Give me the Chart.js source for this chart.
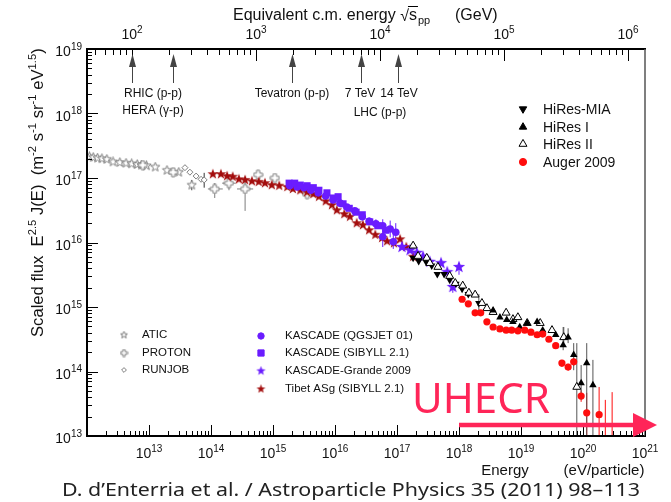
<!DOCTYPE html>
<html>
<head>
<meta charset="utf-8">
<script src="https://cdn.jsdelivr.net/npm/chart.js@4.4.1/dist/chart.umd.min.js"></script>
<style>
  html, body { margin: 0; padding: 0; background: #fff; }
  #wrap { width: 671px; height: 502px; position: relative; }
</style>
</head>
<body>
<div id="wrap"><canvas id="c" width="671" height="502"></canvas></div>
<script>
// ---- Cosmic-ray spectrum, scaled flux E^2.5 J(E); values stored as log10(E/eV), log10(flux) ----

const aticLogE = [12.04, 12.10, 12.17, 12.24, 12.32, 12.42, 12.53, 12.63, 12.72, 12.81, 12.88, 12.96, 13.10, 13.29, 13.48, 13.69];
const aticLogF = [17.33, 17.32, 17.31, 17.30, 17.29, 17.25, 17.24, 17.23, 17.22, 17.21, 17.20, 17.19, 17.17, 17.12, 17.09, 16.89];
const aticErr  = [null, null, null, null, null, null, null, null, null, null, null, null, null, null, null, [16.81, 16.97]];

const protonLogE = [12.90, 13.39, 14.06, 14.29, 14.55, 14.76, 15.03, 15.55];
const protonLogF = [17.20, 17.09, 16.83, 16.92, 16.83, 17.05, 17.00, 16.75];
const protonErr  = [null, null, [16.69, 16.92], [16.81, 17.03], [16.49, 17.02], null, null, null];
const protonXErr = [null, null, [13.95, 14.19], [14.18, 14.40], [14.42, 14.68], null, null, null];

const runjobLogE = [13.58, 13.66, 13.76, 13.84, 13.89];
const runjobLogF = [17.16, 17.09, 17.03, 16.98, 16.97];
const runjobErr  = [null, null, null, null, [16.85, 17.08]];

const tibetLogE = [14.03, 14.16, 14.26, 14.35, 14.45, 14.55, 14.66, 14.77, 14.87, 14.98, 15.10, 15.23, 15.32, 15.44, 15.55, 15.65,
                   15.74, 15.85, 15.95, 16.03, 16.15, 16.24, 16.35, 16.45, 16.55, 16.65, 16.76, 16.84, 16.95, 17.05, 17.15, 17.26];
const tibetLogF = [17.06, 17.06, 17.03, 17.02, 16.98, 16.97, 16.95, 16.94, 16.92, 16.89, 16.88, 16.86, 16.83, 16.81, 16.78, 16.75,
                   16.71, 16.64, 16.58, 16.50, 16.44, 16.40, 16.30, 16.27, 16.19, 16.12, 16.07, 16.02, 15.99, 16.05, 15.93, 15.78];

const kasQgsLogE = [15.27, 15.39, 15.50, 15.61, 15.73, 15.85, 15.97, 16.08, 16.19, 16.32, 16.44, 16.55, 16.66, 16.77, 16.77, 16.89, 16.94, 16.98];
const kasQgsLogF = [16.88, 16.86, 16.85, 16.81, 16.77, 16.72, 16.66, 16.61, 16.55, 16.49, 16.40, 16.33, 16.29, 16.26, 16.09, 16.21, 16.01, 16.16];
const kasQgsErr  = [null, null, null, null, null, null, null, null, null, null,
                    [16.34, 16.46], [16.27, 16.39], [16.22, 16.36], [16.16, 16.36], [15.93, 16.20], [16.08, 16.34], [15.90, 16.12], [16.00, 16.30]];

const kasSibLogE = [15.26, 15.35, 15.44, 15.55, 15.65, 15.74, 15.87, 15.97, 16.05, 16.13, 16.23, 16.34, 16.44, 16.56, 16.69, 16.82];
const kasSibLogF = [16.92, 16.92, 16.89, 16.88, 16.85, 16.81, 16.77, 16.69, 16.71, 16.60, 16.53, 16.47, 16.43, 16.32, 16.26, 16.19];

const grandeLogE = [17.08, 17.21, 17.32, 17.42, 17.53, 17.71, 17.81, 17.90, 18.00];
const grandeLogF = [15.93, 15.88, 15.84, 15.78, 15.70, 15.68, 15.54, 15.31, 15.62];
const grandeErr  = [null, null, null, null, null, null, null, [15.22, 15.39], [15.50, 15.68]];

const miaLogE = [17.26, 17.35, 17.47, 17.56, 17.65, 17.76, 17.85, 17.95, 18.05, 18.15, 18.32];
const miaLogF = [15.76, 15.71, 15.70, 15.64, 15.51, 15.51, 15.42, 15.36, 15.28, 15.20, 15.06];
const miaErr  = [null, null, null, null, null, null, null, null, null, null, [14.92, 15.20]];

const hires1LogE = [18.55, 18.66, 18.77, 18.87, 18.98, 19.10, 19.26, 19.35, 19.56, 19.68, 19.76, 19.85, 19.97, 20.06, 20.16];
const hires1LogF = [14.95, 14.84, 14.80, 14.77, 14.69, 14.75, 14.77, 14.64, 14.57, 14.41, 14.53, 14.26, 13.82, 14.13, 13.79];
const hires1Err  = [null, null, null, null, null, null, null, null, null,
                    [14.33, 14.69], [14.44, 14.67], [14.02, 14.44], [13.56, 14.10], [12.90, 14.44], [12.90, 14.18]];

const hires2LogE = [17.26, 17.34, 17.48, 17.53, 17.66, 17.85, 17.94, 18.06, 18.16, 18.26, 18.37, 18.45, 18.55, 18.76, 18.87, 18.95, 19.10, 19.31, 19.50, 19.69, 19.90];
const hires2LogF = [15.95, 15.79, 15.76, 15.68, 15.62, 15.48, 15.37, 15.33, 15.22, 15.19, 15.06, 14.98, 14.92, 14.91, 14.81, 14.84, 14.75, 14.75, 14.64, 14.53, 13.76];
const hires2Err  = [null, null, null, null, null, null, null, null, null, null, null, null, null, null, null, null, null, null, null, [14.44, 14.69], [12.90, 14.44]];

const augerLogE = [18.05, 18.15, 18.26, 18.35, 18.45, 18.55, 18.66, 18.76, 18.85, 18.95, 19.06, 19.16, 19.26, 19.35, 19.45, 19.56, 19.66, 19.76, 19.85, 19.97, 20.06, 20.26];
const augerLogF = [15.12, 15.05, 14.91, 14.91, 14.77, 14.69, 14.66, 14.64, 14.64, 14.63, 14.64, 14.61, 14.57, 14.58, 14.50, 14.40, 14.13, 14.07, 14.15, 13.62, 13.36, 13.33];
const augerErr  = [null, null, null, null, null, null, null, null, null, null, null, null, null, null, null, null,
                   [14.07, 14.18], [14.01, 14.12], [14.09, 14.21], [13.53, 13.71], [12.90, 13.67], [12.90, 13.76]];
// highest-energy Auger bins: only the upper end of the error bar lies inside the plotted range
const augerLimitLogE = [20.36, 20.47];
const augerLimitLogF = [13.56, 13.68];

// axis ranges and tick decades
const xMinExp = 12, xMaxExp = 21, yMinExp = 13, yMaxExp = 19;
const xTickExps = [13, 14, 15, 16, 17, 18, 19, 20, 21];
const yTickExps = [13, 14, 15, 16, 17, 18, 19];
const topTickExps = [2, 3, 4, 5, 6];

// collider reference energies, sqrt(s) in GeV
const colliderSqrtS = [100, 215, 1960, 7000, 14000];

// ---- style ----
const FONT = '"Liberation Sans", Arial, sans-serif';
const GRAY = '#7d7d7d';
const TIBET = '#a30d0d';
const KAS = '#6a1cff';
const AUGER = '#ff0d0d';
const UHE = '#ff2558';

const PROTON_MASS_GEV = 0.938;
const sqrtsFromE = e => Math.sqrt(2 * PROTON_MASS_GEV * e / 1e9);

function icon(size, draw) {
  const c = document.createElement('canvas');
  c.width = c.height = size;
  draw(c.getContext('2d'), size / 2);
  return c;
}
function starPath(g, c, R, r) {
  g.beginPath();
  for (let i = 0; i < 10; i++) {
    const a = -Math.PI / 2 + i * Math.PI / 5, rr = i % 2 ? r : R;
    g.lineTo(c + rr * Math.cos(a), c + rr * Math.sin(a));
  }
  g.closePath();
}
function crossPath(g, c, a, r) {
  const p = [[-a, -r], [a, -r], [a, -a], [r, -a], [r, a], [a, a], [a, r], [-a, r], [-a, a], [-r, a], [-r, -a], [-a, -a]];
  g.beginPath();
  p.forEach(([px, py]) => g.lineTo(c + px, c + py));
  g.closePath();
}
const openStarIcon = (size, R) => icon(size, (g, c) => { starPath(g, c, R, R * 0.42); g.fillStyle = '#fff'; g.fill(); g.strokeStyle = GRAY; g.lineWidth = 1; g.stroke(); });
const filledStarIcon = (size, R, col) => icon(size, (g, c) => { starPath(g, c, R, R * 0.41); g.fillStyle = col; g.fill(); });
const openCrossIcon = (size, a, r) => icon(size, (g, c) => { crossPath(g, c, a, r); g.fillStyle = '#fff'; g.fill(); g.strokeStyle = GRAY; g.lineWidth = 1; g.stroke(); });

const openStar = openStarIcon(11, 4.8);
const tibetStar = filledStarIcon(12, 5.6, TIBET);
const grandeStar = filledStarIcon(14, 6.5, KAS);
const openCross = openCrossIcon(11, 1.6, 4.4);
// smaller versions for the legend keys
const legendIcons = {
  'ATIC': openStarIcon(9, 3.7),
  'PROTON': openCrossIcon(9, 1.2, 3.4),
  'KASCADE-Grande 2009': filledStarIcon(11, 4.9, KAS),
  'Tibet ASg (SIBYLL 2.1)': filledStarIcon(11, 4.7, TIBET)
};

function pts(logE, logF) { return logE.map((e, i) => ({ x: 10 ** e, y: 10 ** logF[i] })); }
function bars(logE, logF, yErr, xErr) {
  const out = [];
  logE.forEach((e, i) => {
    const b = { e, f: logF[i] };
    if (yErr && yErr[i]) b.y = yErr[i];
    if (xErr && xErr[i]) b.x = xErr[i];
    if (b.y || b.x) out.push(b);
  });
  return out;
}

const datasets = [
  { label: 'Auger 2009', data: pts(augerLogE, augerLogF), pointStyle: 'circle', radius: 3.6,
    backgroundColor: AUGER, borderColor: AUGER, borderWidth: 0, errColor: AUGER,
    errBars: bars(augerLogE, augerLogF, augerErr).concat(augerLimitLogE.map((e, i) => ({ e, f: 12, y: [12.5, augerLimitLogF[i]] }))) },
  { label: 'HiRes I', data: pts(hires1LogE, hires1LogF), pointStyle: 'triangle', radius: 4.3,
    backgroundColor: '#000', borderColor: '#000', borderWidth: 0, errColor: '#555', errBars: bars(hires1LogE, hires1LogF, hires1Err) },
  { label: 'HiRes II', data: pts(hires2LogE, hires2LogF), pointStyle: 'triangle', radius: 4.6,
    backgroundColor: '#fff', borderColor: '#000', borderWidth: 1, errColor: '#555', errBars: bars(hires2LogE, hires2LogF, hires2Err) },
  { label: 'HiRes-MIA', data: pts(miaLogE, miaLogF), pointStyle: 'triangle', rotation: 180, radius: 4.3,
    backgroundColor: '#000', borderColor: '#000', borderWidth: 0, errColor: '#555', errBars: bars(miaLogE, miaLogF, miaErr) },
  { label: 'KASCADE-Grande 2009', data: pts(grandeLogE, grandeLogF), pointStyle: grandeStar,
    backgroundColor: KAS, borderColor: KAS, errColor: KAS, errBars: bars(grandeLogE, grandeLogF, grandeErr) },
  { label: 'KASCADE (SIBYLL 2.1)', data: pts(kasSibLogE, kasSibLogF), pointStyle: 'rect', radius: 5,
    backgroundColor: KAS, borderColor: KAS, borderWidth: 0 },
  { label: 'KASCADE (QGSJET 01)', data: pts(kasQgsLogE, kasQgsLogF), pointStyle: 'circle', radius: 3.8,
    backgroundColor: KAS, borderColor: KAS, borderWidth: 0, errColor: KAS, errBars: bars(kasQgsLogE, kasQgsLogF, kasQgsErr) },
  { label: 'Tibet ASg (SIBYLL 2.1)', data: pts(tibetLogE, tibetLogF), pointStyle: tibetStar,
    backgroundColor: TIBET, borderColor: TIBET },
  { label: 'PROTON', data: pts(protonLogE, protonLogF), pointStyle: openCross,
    backgroundColor: '#fff', borderColor: GRAY, errColor: GRAY, errBars: bars(protonLogE, protonLogF, protonErr, protonXErr) },
  { label: 'RUNJOB', data: pts(runjobLogE, runjobLogF), pointStyle: 'rectRot', radius: 3,
    backgroundColor: '#fff', borderColor: GRAY, borderWidth: 1, errColor: '#333', errBars: bars(runjobLogE, runjobLogF, runjobErr) },
  { label: 'ATIC', data: pts(aticLogE, aticLogF), pointStyle: openStar,
    backgroundColor: '#fff', borderColor: GRAY, errColor: '#444', errBars: bars(aticLogE, aticLogF, aticErr) }
];

// ---- drawing helpers ----
function line(ctx, x1, y1, x2, y2) { ctx.beginPath(); ctx.moveTo(x1, y1); ctx.lineTo(x2, y2); ctx.stroke(); }

function pow10(ctx, exp, x, y, align, base, sup) {
  ctx.font = base + 'px ' + FONT; const w1 = ctx.measureText('10').width;
  ctx.font = sup + 'px ' + FONT; const w2 = ctx.measureText(String(exp)).width;
  const tot = w1 + w2;
  const x0 = align === 'right' ? x - tot : align === 'center' ? x - tot / 2 : x;
  ctx.textAlign = 'left'; ctx.textBaseline = 'alphabetic';
  ctx.font = base + 'px ' + FONT; ctx.fillText('10', x0, y);
  ctx.font = sup + 'px ' + FONT; ctx.fillText(String(exp), x0 + w1, y - base * 0.45);
}

// runs of [text, kind] with kind 0 = normal, 1 = superscript
function richWidth(ctx, runs, size) {
  let w = 0;
  runs.forEach(([t, k]) => { ctx.font = (k ? size * 0.68 : size) + 'px ' + FONT; w += ctx.measureText(t).width; });
  return w;
}
function richText(ctx, runs, x, y, size) {
  runs.forEach(([t, k]) => {
    ctx.font = (k ? size * 0.68 : size) + 'px ' + FONT;
    ctx.fillText(t, x, k ? y - size * 0.42 : y);
    x += ctx.measureText(t).width;
  });
}

const errorBars = {
  id: 'errorBars',
  beforeDatasetsDraw(chart) {
    const { ctx, chartArea: a, scales: { x, y } } = chart;
    ctx.save();
    ctx.beginPath(); ctx.rect(a.left, a.top, a.right - a.left, a.bottom - a.top); ctx.clip();
    ctx.lineWidth = 1;
    chart.data.datasets.forEach(ds => {
      if (!ds.errBars) return;
      ctx.strokeStyle = ds.errColor;
      ds.errBars.forEach(b => {
        const px = x.getPixelForValue(10 ** b.e);
        if (b.y) line(ctx, px, y.getPixelForValue(10 ** b.y[0]), px, y.getPixelForValue(10 ** b.y[1]));
        if (b.x) {
          const py = y.getPixelForValue(10 ** b.f);
          line(ctx, x.getPixelForValue(10 ** b.x[0]), py, x.getPixelForValue(10 ** b.x[1]), py);
        }
      });
    });
    ctx.restore();
  }
};

const decorations = {
  id: 'decorations',
  afterDraw(chart) {
    const { ctx, chartArea: a, scales: { x, y, xTop } } = chart;
    const ds = chart.data.datasets;
    ctx.save();
    ctx.fillStyle = '#000'; ctx.strokeStyle = '#000';

    // frame
    ctx.lineWidth = 2;
    line(ctx, a.left, a.top - 1, a.left, a.bottom + 1);
    line(ctx, a.left - 1, a.bottom, a.right + 1, a.bottom);
    line(ctx, a.left - 1, a.top, a.right + 1, a.top);
    ctx.strokeStyle = '#555'; ctx.lineWidth = 1.5;
    line(ctx, a.right, a.top, a.right, a.bottom);

    // ticks (pointing into the plot)
    ctx.strokeStyle = '#000'; ctx.lineWidth = 1;
    for (let d = xMinExp; d <= xMaxExp; d++) for (let m = 1; m <= 9; m++) {
      const v = m * 10 ** d; if (v > 10 ** xMaxExp * 1.0001) continue;
      const px = Math.round(x.getPixelForValue(v)) + 0.5;
      line(ctx, px, a.bottom, px, a.bottom - (m === 1 ? 11 : 5));
    }
    for (let d = yMinExp; d <= yMaxExp; d++) for (let m = 1; m <= 9; m++) {
      const v = m * 10 ** d; if (v > 10 ** yMaxExp * 1.0001) continue;
      const py = Math.round(y.getPixelForValue(v)) + 0.5;
      line(ctx, a.left, py, a.left + (m === 1 ? 11 : 5), py);
    }
    for (let d = 1; d <= 6; d++) for (let m = 1; m <= 9; m++) {
      const v = m * 10 ** d; if (v < xTop.min || v > xTop.max) continue;
      const px = Math.round(xTop.getPixelForValue(v)) + 0.5;
      line(ctx, px, a.top, px, a.top + (m === 1 ? 12 : 6));
    }

    // tick labels
    ctx.fillStyle = '#111';
    xTickExps.forEach(e => pow10(ctx, e, x.getPixelForValue(10 ** e), a.bottom + 22, 'center', 14, 10));
    yTickExps.forEach(e => pow10(ctx, e, a.left - 5, y.getPixelForValue(10 ** e) + 7, 'right', 14, 10));
    topTickExps.forEach(e => pow10(ctx, e, xTop.getPixelForValue(10 ** e), a.top - 10, 'center', 14, 10));

    // top axis title: Equivalent c.m. energy √s_pp (GeV)
    ctx.font = '16px ' + FONT; ctx.textAlign = 'left'; ctx.textBaseline = 'alphabetic';
    let tx = 233; const ty = 20;
    ctx.fillText('Equivalent c.m. energy', tx, ty);
    tx += ctx.measureText('Equivalent c.m. energy ').width;
    ctx.fillText('\u221A', tx, ty + 1);
    const wr = ctx.measureText('\u221A').width;
    ctx.fillText('s', tx + wr, ty);
    const ws = ctx.measureText('s').width;
    ctx.lineWidth = 1;
    line(ctx, tx + wr - 1, ty - 13.5, tx + wr + ws + 1, ty - 13.5);
    ctx.font = '11px ' + FONT;
    ctx.fillText('pp', tx + wr + ws + 1, ty + 4);
    ctx.font = '16px ' + FONT;
    ctx.fillText('(GeV)', 455, ty);

    // y axis title (rotated)
    const yRuns = [['Scaled flux  E', 0], ['2.5', 1], [' J(E)  (m', 0], ['-2', 1], [' s', 0], ['-1', 1], [' sr', 0], ['-1', 1], [' eV', 0], ['1.5', 1], [')', 0]];
    let ys = 15;
    const w0 = richWidth(ctx, yRuns, ys);
    ys = ys * 289 / w0;
    ctx.save();
    ctx.translate(43, 337); ctx.rotate(-Math.PI / 2);
    richText(ctx, yRuns, 0, 0, ys);
    ctx.restore();

    // bottom axis captions
    ctx.font = '15px ' + FONT; ctx.textAlign = 'center';
    ctx.fillText('Energy', 505, 475);
    ctx.fillText('(eV/particle)', 604, 475);

    // collider arrows on the top axis
    ctx.strokeStyle = '#444'; ctx.fillStyle = '#444'; ctx.lineWidth = 1;
    colliderSqrtS.forEach(s => {
      const px = Math.round(xTop.getPixelForValue(s)) + 0.5;
      line(ctx, px, 64, px, 83);
      ctx.beginPath(); ctx.moveTo(px, 54); ctx.lineTo(px - 3.5, 67); ctx.lineTo(px + 3.5, 67); ctx.closePath(); ctx.fill();
    });
    ctx.fillStyle = '#111'; ctx.font = '12px ' + FONT; ctx.textAlign = 'center'; ctx.textBaseline = 'middle';
    ctx.fillText('RHIC (p-p)', 153, 94);
    ctx.fillText('HERA (\u03B3-p)', 153, 111);
    ctx.fillText('Tevatron (p-p)', 292, 94);
    ctx.fillText('7 TeV', 360, 94);
    ctx.fillText('14 TeV', 399, 94);
    ctx.fillText('LHC (p-p)', 380, 113);

    // legends
    const H = Chart.helpers;
    function marker(d, px, py, over) {
      const o = Object.assign({}, d, over || {});
      ctx.save();
      ctx.fillStyle = o.backgroundColor; ctx.strokeStyle = o.borderColor;
      ctx.lineWidth = o.borderWidth === undefined ? 1 : o.borderWidth;
      H.drawPoint(ctx, { pointStyle: legendIcons[d.label] || o.pointStyle, radius: o.radius || 3, rotation: o.rotation || 0, borderWidth: ctx.lineWidth }, px, py);
      ctx.restore();
    }
    const byLabel = l => ds.find(d => d.label === l);
    ctx.textAlign = 'left'; ctx.textBaseline = 'middle'; ctx.fillStyle = '#111';
    [['HiRes-MIA', 109], ['HiRes I', 127], ['HiRes II', 144], ['Auger 2009', 162]].forEach(([l, py]) => {
      marker(byLabel(l), 523, py);
      ctx.fillStyle = '#111'; ctx.font = '14px ' + FONT; ctx.fillText(l, 543, py + 1);
    });
    [['ATIC', 335], ['PROTON', 353], ['RUNJOB', 370]].forEach(([l, py]) => {
      marker(byLabel(l), 124, py, l === 'RUNJOB' ? { radius: 2.4 } : null);
      ctx.fillStyle = '#111'; ctx.font = '11.5px ' + FONT; ctx.fillText(l, 142, py);
    });
    [['KASCADE (QGSJET 01)', 336], ['KASCADE (SIBYLL 2.1)', 353], ['KASCADE-Grande 2009', 371], ['Tibet ASg (SIBYLL 2.1)', 389]].forEach(([l, py]) => {
      const d = byLabel(l);
      const small = d.pointStyle === 'circle' ? { radius: 3.2 } : d.pointStyle === 'rect' ? { radius: 4.4 } : null;
      marker(d, 261, py, small);
      ctx.fillStyle = '#111'; ctx.font = '11.5px ' + FONT; ctx.fillText(l, 285, py);
    });

    // UHECR label and arrow
    ctx.fillStyle = UHE; ctx.strokeStyle = UHE;
    ctx.font = '42px "Noto Sans", "Open Sans", sans-serif'; ctx.textAlign = 'left'; ctx.textBaseline = 'alphabetic';
    ctx.fillText('UHECR', 412, 413);
    const ax0 = x.getPixelForValue(1e18), ay = 425;
    ctx.lineWidth = 4.5;
    line(ctx, ax0, ay, 636, ay);
    ctx.beginPath(); ctx.moveTo(657, ay); ctx.lineTo(633, ay - 12); ctx.lineTo(633, ay + 12); ctx.closePath(); ctx.fill();

    // citation line
    ctx.fillStyle = '#222';
    ctx.font = '18.5px "Noto Sans", "Open Sans", sans-serif'; ctx.textAlign = 'center'; ctx.textBaseline = 'alphabetic';
    const cite = 'D. d\u2019Enterria et al. / Astroparticle Physics 35 (2011) 98\u2013113';
    const cw = ctx.measureText(cite).width;
    ctx.save(); ctx.translate(351, 496); ctx.scale(578 / cw, 1); ctx.fillText(cite, 0, 0); ctx.restore();

    ctx.restore();
  }
};

new Chart(document.getElementById('c'), {
  type: 'scatter',
  data: { datasets },
  options: {
    responsive: false,
    animation: false,
    devicePixelRatio: 1,
    layout: { padding: { left: 87, top: 49, right: 26, bottom: 66 } },
    plugins: { legend: { display: false }, tooltip: { enabled: false } },
    scales: {
      x: { type: 'logarithmic', display: false, min: 10 ** xMinExp, max: 10 ** xMaxExp },
      y: { type: 'logarithmic', display: false, min: 10 ** yMinExp, max: 10 ** yMaxExp },
      xTop: { type: 'logarithmic', display: false, position: 'top',
              min: sqrtsFromE(10 ** xMinExp), max: sqrtsFromE(10 ** xMaxExp) }
    }
  },
  plugins: [errorBars, decorations]
});
</script>
</body>
</html>
